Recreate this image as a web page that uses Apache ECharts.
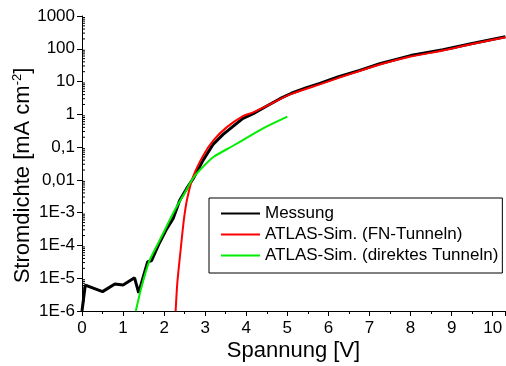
<!DOCTYPE html>
<html>
<head>
<meta charset="utf-8">
<script src="https://cdn.jsdelivr.net/npm/echarts@6/dist/echarts.min.js"></script>
<style>html,body{margin:0;padding:0;background:#fff}#c{width:506px;height:366px}</style>
</head>
<body>
<div id="c"></div>
<script>
// Measurement (black)
const messungV = [0, 0.08, 0.5, 0.8, 1.0, 1.28, 1.38, 1.53, 1.6, 1.69, 1.8, 1.9, 2.05, 2.22, 2.38, 2.55, 2.71, 2.95, 3.19, 3.43, 3.7, 3.92, 4.17, 4.5, 4.82, 5.1, 5.45, 5.79, 6.25, 6.76, 7.25, 8.0, 8.79, 9.5, 10.31];
const messungJ = [1e-6, 6.2e-6, 3.9e-6, 6.7e-6, 6.2e-6, 1.03e-5, 3.6e-6, 1.6e-5, 3.2e-5, 3.4e-5, 7e-5, 1.3e-4, 3e-4, 6.7e-4, 2.4e-3, 5.5e-3, 0.011, 0.04, 0.12, 0.24, 0.45, 0.75, 1.05, 1.8, 3.0, 4.4, 6.4, 8.8, 14, 22, 35, 62, 93, 145, 232];
// ATLAS FN tunneling (red)
const fnV = [2.28, 2.32, 2.40, 2.48, 2.56, 2.7, 2.95, 3.2, 3.52, 3.92, 4.17, 4.5, 4.82, 5.1, 5.79, 6.25, 6.76, 7.25, 8.0, 8.79, 9.5, 10.31];
const fnJ = [1e-6, 7e-6, 7e-5, 6e-4, 2.6e-3, 0.012, 0.055, 0.16, 0.4, 0.88, 1.15, 1.8, 2.9, 4.2, 8.2, 13, 21, 33, 58, 88, 140, 225];
// ATLAS direct tunneling (green)
const dtV = [1.31, 1.45, 1.65, 1.9, 2.26, 2.5, 2.7, 2.87, 3.2, 3.68, 4.09, 4.49, 5.0];
const dtJ = [1e-6, 5.5e-6, 3.6e-5, 1.5e-4, 1.2e-3, 4e-3, 0.011, 0.02, 0.05, 0.11, 0.22, 0.42, 0.85];

const seriesNames = ['Messung', 'ATLAS-Sim. (FN-Tunneln)', 'ATLAS-Sim. (direktes Tunneln)'];
const yTickLabels = ['1E-6', '1E-5', '1E-4', '1E-3', '0,01', '0,1', '1', '10', '100', '1000'];
const xTicks = [0, 1, 2, 3, 4, 5, 6, 7, 8, 9, 10];

const zip = (a, b) => a.map((v, i) => [v, b[i]]);

// minor tick positions on log axis (decoration)
const minorVals = [];
for (let e = -6; e < 3; e++) for (let k = 2; k <= 9; k++) minorVals.push([0, k * Math.pow(10, e)]);

const FONT = 'Liberation Sans, Arial, sans-serif';
const chart = echarts.init(document.getElementById('c'));
chart.setOption({
  animation: false,
  backgroundColor: '#fff',
  grid: { left: 82, right: 1, top: 16, bottom: 55, containLabel: false, outerBoundsMode: 'none' },
  legend: {
    orient: 'vertical',
    left: 209, top: 198,
    padding: [7, 4, 9, 11],
    itemWidth: 39, itemHeight: 14, itemGap: 4,
    borderColor: '#000', borderWidth: 1,
    itemStyle: { opacity: 0 },
    textStyle: { fontFamily: FONT, fontSize: 17, color: '#000' },
    data: seriesNames
  },
  xAxis: {
    type: 'value', min: 0, max: 10.3, interval: 1,
    name: 'Spannung [V]', nameLocation: 'middle', nameGap: 29, nameMoveOverlap: false,
    nameTextStyle: { fontFamily: FONT, fontSize: 22, color: '#000' },
    axisLine: { lineStyle: { color: '#000', width: 1 } },
    axisTick: { show: true, inside: false, length: 5, lineStyle: { color: '#000' } },
    minorTick: { show: true, splitNumber: 2, length: 3, lineStyle: { color: '#000' } },
    splitLine: { show: false },
    axisLabel: {
      fontFamily: FONT, fontSize: 17, color: '#000', margin: 9,
      formatter: v => (xTicks.indexOf(Math.round(v)) >= 0 && Math.abs(v - Math.round(v)) < 1e-6) ? String(Math.round(v)) : ''
    }
  },
  yAxis: {
    type: 'log', logBase: 10, min: 1e-6, max: 1000, interval: 1,
    name: '{a|Stromdichte [mA cm}{s|-2}{a|]}', nameLocation: 'middle', nameGap: 48, nameRotate: 90, nameMoveOverlap: false,
    nameTextStyle: {
      fontFamily: FONT, fontSize: 22, color: '#000', padding: [0, 24, 0, 0],
      rich: {
        a: { fontFamily: FONT, fontSize: 22, color: '#000' },
        s: { fontFamily: FONT, fontSize: 13, color: '#000', verticalAlign: 'top', padding: [0, 0, 10, 0] }
      }
    },
    axisLine: { show: true, lineStyle: { color: '#000', width: 1 } },
    axisTick: { show: true, inside: false, length: 5, lineStyle: { color: '#000' } },
    splitLine: { show: false },
    axisLabel: {
      fontFamily: FONT, fontSize: 17, color: '#000', margin: 7,
      formatter: v => {
        const e = Math.round(Math.log10(v));
        return yTickLabels[e + 6] || '';
      }
    }
  },
  series: [
    {
      type: 'custom', silent: true, legendHoverLink: false,
      data: minorVals,
      renderItem: (params, api) => {
        const p = api.coord([0, api.value(1)]);
        return { type: 'line', shape: { x1: p[0], y1: p[1], x2: p[0] + 3, y2: p[1] }, style: { stroke: '#000', lineWidth: 1 } };
      },
      z: 1
    },
    {
      name: seriesNames[0], type: 'line', data: zip(messungV, messungJ),
      symbol: 'none', showSymbol: false, lineStyle: { color: '#000', width: 3 }, itemStyle: { color: '#000' }, z: 3
    },
    {
      name: seriesNames[1], type: 'line', data: zip(fnV, fnJ), smooth: 0.2,
      symbol: 'none', showSymbol: false, lineStyle: { color: '#ff0000', width: 2 }, itemStyle: { color: '#ff0000' }, z: 4
    },
    {
      name: seriesNames[2], type: 'line', data: zip(dtV, dtJ), smooth: 0.2,
      symbol: 'none', showSymbol: false, lineStyle: { color: '#00ee00', width: 2 }, itemStyle: { color: '#00ee00' }, z: 5
    }
  ]
});
</script>
</body>
</html>
